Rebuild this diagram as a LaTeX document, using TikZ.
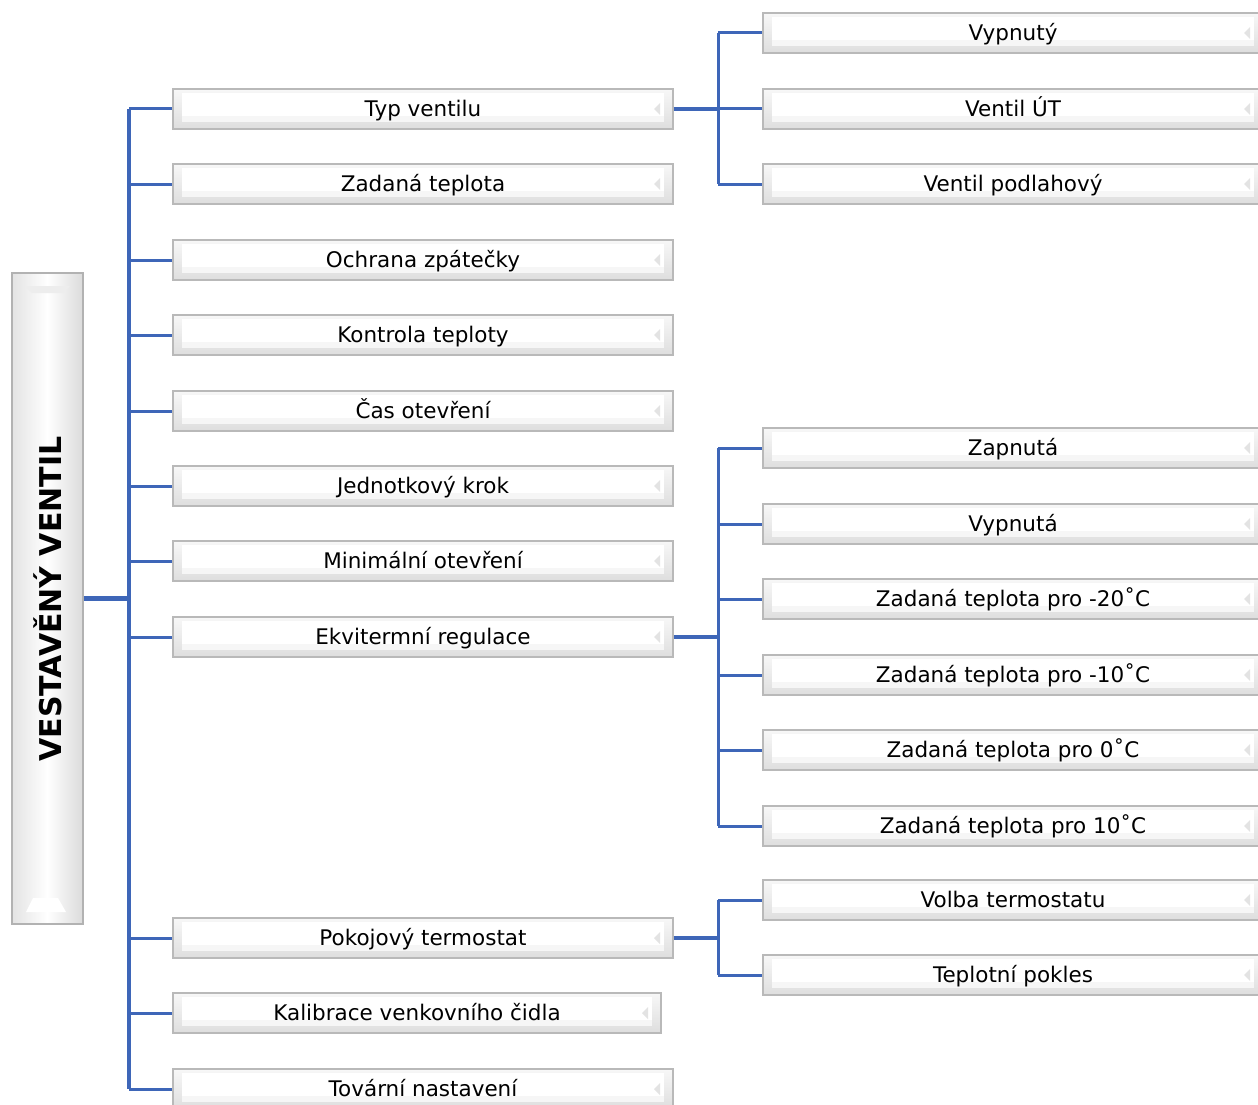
\documentclass[tikz,border=0pt]{standalone}
\usepackage{fontspec}
\setmainfont{DejaVu Sans}
\definecolor{conn}{RGB}{62,102,184}
\begin{document}
\begin{tikzpicture}[x=1pt,y=-1pt,
  bbox/.style={draw=gray!55, line width=1.2pt, minimum width=500pt, minimum height=40pt,
    inner sep=0pt, text height=15.4pt, text depth=0pt,
    top color=gray!6, bottom color=gray!26, font=\fontsize{21.5}{24}\selectfont,
    path picture={
      \fill[white] ([xshift=9pt,yshift=-4pt]path picture bounding box.north west) rectangle ([xshift=-9pt,yshift=13pt]path picture bounding box.south east);
      \fill[gray!7] ([xshift=9pt,yshift=13pt]path picture bounding box.south west) rectangle ([xshift=-9pt,yshift=7pt]path picture bounding box.south east);
      \fill[gray!22] ([xshift=-13pt,yshift=6pt]path picture bounding box.east) -- ([xshift=-19pt]path picture bounding box.east) -- ([xshift=-13pt,yshift=-6pt]path picture bounding box.east) -- cycle;
    }},
  conline/.style={draw=conn, line width=3pt},
  trunk/.style={draw=conn, line width=4pt},
  thick conline/.style={draw=conn, line width=4.2pt}]
\clip (0,0) rectangle (1258,1105);
\fill[white] (0,0) rectangle (1258,1105);

% big box
\node[draw=gray!60, line width=1.2pt, minimum width=71pt, minimum height=651pt, inner sep=0pt,
  left color=gray!22, right color=gray!28, middle color=white] (big) at (47.5,598.5) {};
\fill[gray!14] (25,286) -- (70,286) -- (63,293) -- (32,293) -- cycle;
\fill[white] (33,898) -- (58,898) -- (66,912) -- (26,912) -- cycle;
\node[rotate=90, font=\fontsize{30}{33}\selectfont\bfseries] (bigtext) at (47.5,599) {VESTAVĚNÝ VENTIL};

% left column
\node[bbox] (L1) at (423,109) {Typ ventilu};
\node[bbox] (L2) at (423,184) {Zadaná teplota};
\node[bbox] (L3) at (423,260) {Ochrana zpátečky};
\node[bbox] (L4) at (423,335) {Kontrola teploty};
\node[bbox] (L5) at (423,411) {Čas otevření};
\node[bbox] (L6) at (423,486) {Jednotkový krok};
\node[bbox] (L7) at (423,561) {Minimální otevření};
\node[bbox] (L8) at (423,637) {Ekvitermní regulace};
\node[bbox] (L9) at (423,938) {Pokojový termostat};
\node[bbox, minimum width=488pt] (L10) at (417,1013) {Kalibrace venkovního čidla};
\node[bbox] (L11) at (423,1089) {Tovární nastavení};

% right column
\node[bbox] (R1) at (1013,33) {Vypnutý};
\node[bbox] (R2) at (1013,109) {Ventil ÚT};
\node[bbox] (R3) at (1013,184) {Ventil podlahový};
\node[bbox] (E1) at (1013,448) {Zapnutá};
\node[bbox] (E2) at (1013,524) {Vypnutá};
\node[bbox] (E3) at (1013,599) {Zadaná teplota pro -20˚C};
\node[bbox] (E4) at (1013,675) {Zadaná teplota pro -10˚C};
\node[bbox] (E5) at (1013,750) {Zadaná teplota pro 0˚C};
\node[bbox] (E6) at (1013,826) {Zadaná teplota pro 10˚C};
\node[bbox] (P1) at (1013,900) {Volba termostatu};
\node[bbox] (P2) at (1013,975) {Teplotní pokles};

% trunks
\coordinate (t0) at (129,0);
\coordinate (t1) at (718,0);

\draw[thick conline] (big.east) -- (big.east -| t0);
\draw[trunk] (t0 |- L1.west) -- (t0 |- L11.west);
\foreach \n in {L1,L2,L3,L4,L5,L6,L7,L8,L9,L10,L11}
  \draw[conline] (t0 |- \n.west) -- (\n.west);

\draw[thick conline] (L1.east) -- (L1.east -| t1);
\draw[conline] (t1 |- R1.west) -- (t1 |- R3.west);
\foreach \n in {R1,R2,R3} \draw[conline] (t1 |- \n.west) -- (\n.west);

\draw[thick conline] (L8.east) -- (L8.east -| t1);
\draw[conline] (t1 |- E1.west) -- (t1 |- E6.west);
\foreach \n in {E1,E2,E3,E4,E5,E6} \draw[conline] (t1 |- \n.west) -- (\n.west);

\draw[thick conline] (L9.east) -- (L9.east -| t1);
\draw[conline] (t1 |- P1.west) -- (t1 |- P2.west);
\foreach \n in {P1,P2} \draw[conline] (t1 |- \n.west) -- (\n.west);
\end{tikzpicture}
\end{document}
